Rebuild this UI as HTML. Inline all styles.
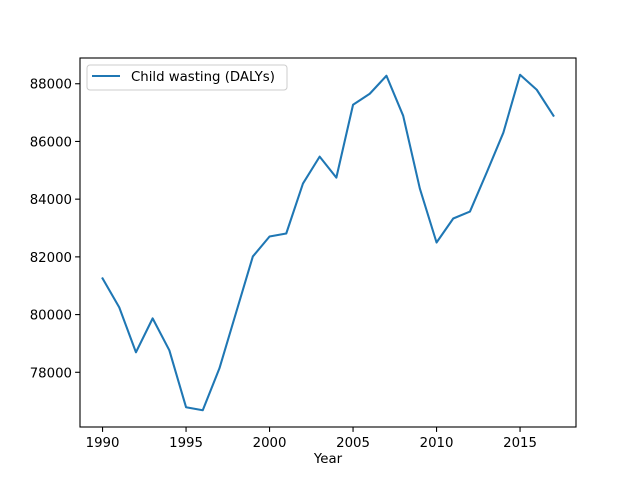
<!DOCTYPE html>
<html><head><meta charset="utf-8"><style>body{margin:0;background:#fff}svg{display:block;font-family:"DejaVu Sans","Liberation Sans",sans-serif}</style></head>
<body>
<svg id="chart" width="640" height="480" xmlns="http://www.w3.org/2000/svg"></svg>
<script>
const years=[1990,1991,1992,1993,1994,1995,1996,1997,1998,1999,2000,2001,2002,2003,2004,2005,2006,2007,2008,2009,2010,2011,2012,2013,2014,2015,2016,2017];
const values=[81253,80249,78692,79868,78761,76789,76685,78138,80076,82014,82706,82810,84540,85474,84747,87273,87654,88277,86893,84367,82498,83329,83571,84920,86304,88311,87792,86893];
const xTicks=[1990,1995,2000,2005,2010,2015];
const yTicks=[78000,80000,82000,84000,86000,88000];
const svg=document.getElementById('chart');
const NS='http://www.w3.org/2000/svg';
const L=80,R=576,T=58,B=427;
const xmin=Math.min(...years),xmax=Math.max(...years),xr=xmax-xmin;
const ymin0=Math.min(...values),ymax0=Math.max(...values),yr=ymax0-ymin0;
const x0=xmin-0.05*xr,x1=xmax+0.05*xr,y0=ymin0-0.05*yr,y1=ymax0+0.05*yr;
const sx=v=>L+(v-x0)/(x1-x0)*(R-L);
const sy=v=>B-(v-y0)/(y1-y0)*(B-T);
const FS=13.3;
function el(t,a,txt){const e=document.createElementNS(NS,t);for(const k in a)e.setAttribute(k,a[k]);if(txt!==undefined)e.textContent=txt;svg.appendChild(e);return e;}
let d=years.map((y,i)=>(i?'L':'M')+sx(y).toFixed(2)+','+sy(values[i]).toFixed(2)).join(' ');
let line=el('path',{d:d,fill:'none',stroke:'#1f77b4','stroke-width':2.08,'stroke-linejoin':'round','stroke-linecap':'square'});


let frame=el('rect',{x:L,y:T,width:R-L,height:B-T,fill:'none',stroke:'#000','stroke-width':1.1});


xTicks.forEach(t=>{const x=sx(t);el('line',{x1:x,x2:x,y1:B,y2:B+4.9,stroke:'#000','stroke-width':1.1});
const lb=el('text',{x:x,y:B+20,'font-size':FS,'text-anchor':'middle'},t);

});
yTicks.forEach(t=>{const y=sy(t);el('line',{x1:L,x2:L-4.9,y1:y,y2:y,stroke:'#000','stroke-width':1.1});
const lb=el('text',{x:L-8,y:y+5,'font-size':FS,'text-anchor':'end'},t);

});
const xt=el('text',{x:(L+R)/2,y:B+36,'font-size':FS,'text-anchor':'middle'},'Year');


const lg=el('rect',{x:87,y:65,width:200,height:25,rx:3,fill:'#fff',stroke:'#ccc','stroke-width':1});


el('line',{x1:92,x2:120,y1:76,y2:76,stroke:'#1f77b4','stroke-width':2.08});
const lt=el('text',{x:131,y:81,'font-size':FS},'Child wasting (DALYs)');


</script>
</body></html>
